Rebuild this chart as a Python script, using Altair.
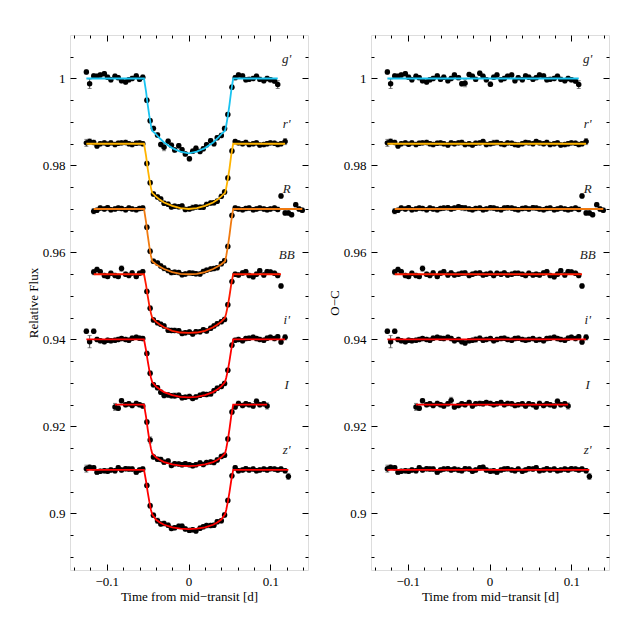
import altair as alt
import numpy as np
import pandas as pd

FONT = "Liberation Serif"

BANDS = ["g'", "r'", "R", "BB", "i'", "I", "z'"]
OFFSETS = [1.000, 0.985, 0.970, 0.955, 0.940, 0.925, 0.910]
COLORS = ["#19c3f0", "#ffb400", "#f07a10", "#ff1a00", "#ff0000", "#ff0000", "#ff0000"]

# observation times in milli-days from mid-transit
TIMES_MD = [-125, -121, -116, -112, -108, -103, -99, -95, -90, -86,
            -82, -77, -73, -69, -64, -60, -56, -51, -47, -43,
            -38, -34, -30, -25, -21, -17, -12, -8, -4, 1,
            5, 9, 14, 18, 22, 27, 31, 35, 40, 44,
            48, 53, 57, 61, 66, 70, 74, 79, 83, 87,
            92, 96, 100, 105, 109, 113, 118, 122, 126, 131,
            135, 139]
FIRST = [0, 0, 2, 2, 0, 8, 0]
LAST = [54, 56, 61, 55, 56, 51, 57]

# transit model (depth, 1e-4) at knot times (milli-days)
KNOTS_MD = [-54.5, -52, -50, -48, -46, -44.5, -40, -35, -30, -20, -10, 0,
            10, 20, 30, 35, 40, 44.5, 46, 48, 50, 52, 54.5]
DEPTH_G = [0, 30, 60, 86, 108, 120, 128, 138, 147, 160, 168, 172, 168, 160, 147, 138, 128, 120, 108, 86, 60, 30, 0]
DEPTH_RP = [0, 28, 57, 81, 102, 113, 121, 129, 135, 143, 148, 150, 148, 143, 135, 129, 121, 113, 102, 81, 57, 28, 0]
DEPTH_R = [0, 30, 60, 86, 108, 120, 127, 133, 138, 145, 149, 150, 149, 145, 138, 133, 127, 120, 108, 86, 60, 30, 0]
DEPTH_BB = [0, 25, 50, 72, 90, 100, 109, 116, 122, 130, 134, 135, 134, 130, 122, 116, 109, 100, 90, 72, 50, 25, 0]
DEPTH_IP = [0, 25, 49, 71, 88, 98, 108, 115, 121, 128, 132, 133, 132, 128, 121, 115, 108, 98, 88, 71, 49, 25, 0]
DEPTH_I = [0, 28, 56, 81, 101, 112, 121, 127, 132, 137, 140, 141, 140, 137, 132, 127, 121, 112, 101, 81, 56, 28, 0]
DEPTH_Z = [0, 26, 51, 73, 92, 102, 114, 121, 126, 132, 135, 136, 135, 132, 126, 121, 114, 102, 92, 73, 51, 26, 0]
DEPTHS = [DEPTH_G, DEPTH_RP, DEPTH_R, DEPTH_BB, DEPTH_IP, DEPTH_I, DEPTH_Z]

# residuals O-C (1e-4)
RES_G = [15, -12, 6, 5, 8, 11, 3, -3, 5, 2, -5, -8, -3, 0, 6, -2, 3, -5, 0, 8,
         2, -12, -11, 9, 5, -2, 12, 5, -3, -13, 3, 8, -3, 0, 5, 8, -5, 2, -3, 6,
         3, -2, 2, 8, 6, -3, -2, 0, 5, -2, -5, 0, -3, -6, -14]
RES_RP = [2, 5, 3, -5, 0, 2, -1, 2, -2, 1, 2, 3, 0, -2, 1, 2, 0, -3, 2, 0,
          2, 3, -2, 0, -3, 1, 2, 5, -2, 0, 2, 3, 0, -2, 2, 1, -2, -3, 0, 3,
          2, 0, 5, 2, 0, 3, -2, 0, 2, -3, -2, 0, 2, 1, -2, 0, 5]
RES_R = [-5, -3, 2, 0, 3, -2, 0, 2, 1, -2, 2, 0, -2, 1, 2, 3, 0, 2, 5, 3,
         2, 0, -2, 1, 2, -2, 0, 3, 2, 0, -2, 2, 3, 2, 0, -2, 1, 2, 0, 3,
         2, 0, -2, 1, 2, -2, 0, 2, 0, -2, 0, 2, -1, 30, -9, -9, -13, 10, 0, -3]
RES_BB = [5, 11, 6, -3, -5, 2, -3, -5, 13, 0, -3, 3, -5, 2, 6, -2, 3, -2, 0, 2,
          3, -3, 0, 2, 3, -2, 0, 2, -3, 2, 0, 3, -2, 0, 2, 2, 0, -3, 2, -2,
          0, -2, 3, 6, -3, -6, 0, 8, -2, 6, 5, 2, -3, -27]
RES_IP = [19, -5, 19, 0, -3, -5, -2, -3, -2, 0, 2, 0, -2, 3, 5, 3, 2, 5, 2, -3,
          0, -5, -8, -3, -2, 0, 3, -2, 0, 2, -3, 0, 2, 3, 0, -2, 2, 3, 0, -2,
          0, 2, -2, 0, -3, 2, 3, 5, 2, 0, -2, 3, 5, 2, 6, -6, 5]
RES_I = [-5, -8, 9, 0, 2, -2, 3, 0, -3, 2, 10, -5, -2, 2, 0, 5, -3, 2, 3, 2,
         5, 3, 0, 2, 5, 0, 3, 2, -2, 0, 2, -3, 2, 0, -5, 3, -2, 2, 0, -3,
         8, 0, 2, -3]
RES_Z = [3, 6, 5, -5, -3, -2, -3, 0, -2, 5, 0, 3, 2, 2, -5, 0, 2, 3, 0, 2,
         0, -2, 3, 2, -3, 0, 5, 6, 0, -3, -2, -5, 0, 2, 3, 0, -2, 2, -3, 0,
         3, 2, 5, -2, 0, 3, 0, 2, -2, 0, 2, 0, 3, 2, 0, 2, -2, -15]
RESIDS = [RES_G, RES_RP, RES_R, RES_BB, RES_IP, RES_I, RES_Z]

# error bars (1e-4): default and larger ones (band, point, err)
DEFAULT_ERR = 5
BIG_ERR = [(0, 1, 11), (0, 54, 9), (0, 22, 8), (1, 0, 8), (1, 1, 6), (1, 56, 7), (1, 30, 6),
           (2, 0, 6), (2, 20, 6), (3, 0, 6), (3, 8, 6), (3, 53, 5), (4, 1, 14), (4, 56, 6),
           (4, 25, 6), (5, 0, 8), (5, 10, 7), (5, 43, 7), (6, 0, 8), (6, 57, 7), (6, 20, 6)]

LABEL_T = 0.12
LABEL_DY = 0.0045

XDOM = [-0.145, 0.146]
YDOM = [0.887, 1.010]
X_MAJOR = [-0.1, 0.0, 0.1]
X_MINOR = [-0.14, -0.12, -0.08, -0.06, -0.04, -0.02, 0.02, 0.04, 0.06, 0.08, 0.12, 0.14]
Y_MAJOR = [0.90, 0.92, 0.94, 0.96, 0.98, 1.00]
Y_MINOR = [0.89, 0.895, 0.905, 0.91, 0.915, 0.925, 0.93, 0.935, 0.945, 0.95, 0.955,
           0.965, 0.97, 0.975, 0.985, 0.99, 0.995, 1.005]

# ---------------- build tables ----------------
pts_l, pts_r, line_l, line_r, err_l, err_r, cap_l, cap_r, labs = ([] for _ in range(9))
kt = np.array(KNOTS_MD) / 1000.0
for b, band in enumerate(BANDS):
    t = np.array(TIMES_MD[FIRST[b]:LAST[b] + 1]) / 1000.0
    res = np.array(RESIDS[b]) * 1e-4
    assert len(t) == len(res), band
    dk = np.array(DEPTHS[b]) * 1e-4
    off = OFFSETS[b]
    model = off - np.interp(t, kt, dk, left=0.0, right=0.0)
    flux = model + res
    oc = off + res
    errs = np.full(len(t), DEFAULT_ERR * 1e-4)
    for bb, i, e in BIG_ERR:
        if bb == b:
            errs[i] = e * 1e-4
    for i in range(len(t)):
        pts_l.append({"t": t[i], "y": flux[i], "band": band})
        pts_r.append({"t": t[i], "y": oc[i], "band": band})
        err_l.append({"t": t[i], "lo": flux[i] - errs[i], "hi": flux[i] + errs[i]})
        err_r.append({"t": t[i], "lo": oc[i] - errs[i], "hi": oc[i] + errs[i]})
        for s in (-1, 1):
            cap_l.append({"t": t[i], "y": flux[i] + s * errs[i]})
            cap_r.append({"t": t[i], "y": oc[i] + s * errs[i]})
    lt = np.concatenate([[t[0]], kt, [t[-1]]])
    ly = off - np.concatenate([[0.0], dk, [0.0]])
    for a, c in zip(lt, ly):
        line_l.append({"t": a, "y": c, "band": band})
    line_r.append({"t": t[0], "y": off, "band": band})
    line_r.append({"t": t[-1], "y": off, "band": band})
    labs.append({"t": LABEL_T, "y": off + LABEL_DY, "band": band})

XS = alt.Scale(domain=XDOM, nice=False, zero=False)
YS = alt.Scale(domain=YDOM, nice=False, zero=False)


def axis(orient, values, size, labels=False, title=None):
    kw = dict(orient=orient, values=values, tickSize=size, offset=-size, domain=False,
              grid=False, labels=labels, tickColor="black", tickWidth=1, title=title)
    if labels:
        kw.update(format="~g", labelPadding=5, labelFont=FONT, labelFontSize=13,
                  labelColor="black")
    if title:
        kw.update(titleFont=FONT, titleFontSize=13, titleFontWeight="normal",
                  titlePadding=2, titleColor="black")
    return alt.Axis(**kw)


def panel(pts, lines, errs, caps, ytitle):
    P = pd.DataFrame(pts)
    L = pd.DataFrame(lines)
    E = pd.DataFrame(errs)
    C = pd.DataFrame(caps)
    T = pd.DataFrame(labs)
    rules = alt.Chart(E).mark_rule(color="#555", strokeWidth=1).encode(
        x=alt.X("t:Q", scale=XS, axis=axis("bottom", X_MINOR, 3)),
        y=alt.Y("lo:Q", scale=YS, axis=axis("left", Y_MINOR, 3)),
        y2="hi:Q",
    )
    capm = alt.Chart(C).mark_tick(orient="horizontal", size=4, thickness=1, color="#555").encode(
        x=alt.X("t:Q", scale=XS, axis=axis("top", X_MAJOR, 6)),
        y=alt.Y("y:Q", scale=YS, axis=axis("right", Y_MAJOR, 6)),
    )
    points = alt.Chart(P).mark_circle(size=30, color="black", opacity=1).encode(
        x=alt.X("t:Q", scale=XS,
                axis=axis("bottom", X_MAJOR, 6, labels=True, title="Time from mid\u2212transit [d]")),
        y=alt.Y("y:Q", scale=YS, axis=axis("left", Y_MAJOR, 6, labels=True, title=ytitle)),
    )
    model = alt.Chart(L).mark_line(strokeWidth=1.8).encode(
        x=alt.X("t:Q", scale=XS, axis=axis("top", X_MINOR, 3)),
        y=alt.Y("y:Q", scale=YS, axis=axis("right", Y_MINOR, 3)),
        color=alt.Color("band:N", scale=alt.Scale(domain=BANDS, range=COLORS), legend=None),
    )
    text = alt.Chart(T).mark_text(font=FONT, fontStyle="italic", fontSize=13, color="#222",
                                  align="center", baseline="middle").encode(
        x=alt.X("t:Q", scale=XS, axis=None),
        y=alt.Y("y:Q", scale=YS, axis=None),
        text="band:N",
    )
    return alt.layer(rules, capm, points, model, text).resolve_axis(
        x="independent", y="independent"
    ).properties(width=238, height=535)


left = panel(pts_l, line_l, err_l, cap_l, "Relative Flux")
right = panel(pts_r, line_r, err_r, cap_r, "O\u2212C")

chart = alt.hconcat(left, right, spacing=18).properties(
    padding={"left": 18, "top": 26, "right": 5, "bottom": 5}
).configure_view(stroke="black", strokeWidth=1).configure(background="white")

chart.save("out.html", embed_options={"renderer": "svg", "actions": False})
